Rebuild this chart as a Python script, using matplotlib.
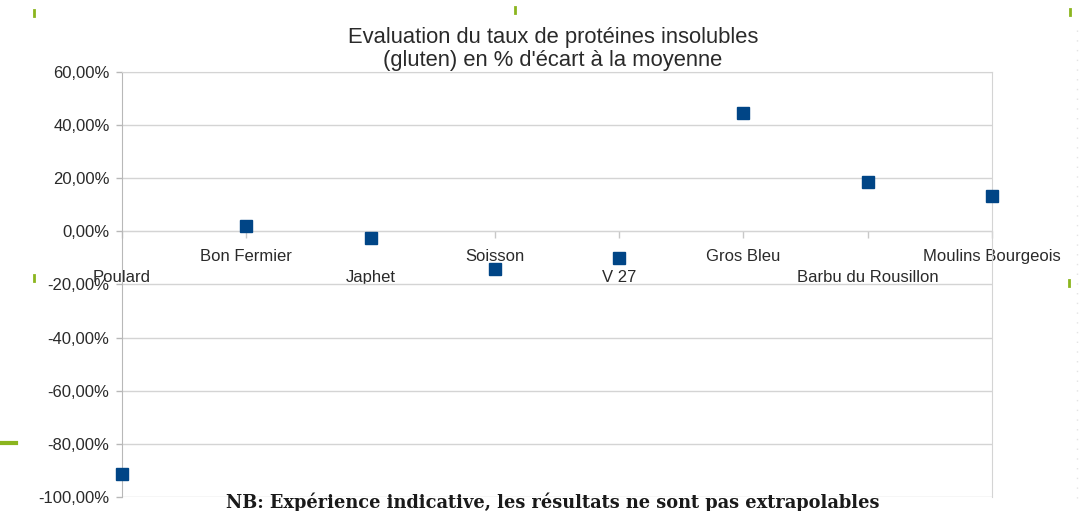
import matplotlib
matplotlib.use("Agg")
import matplotlib.pyplot as plt
from matplotlib.ticker import FuncFormatter, FixedLocator
from matplotlib.lines import Line2D

categories = ["Poulard", "Bon Fermier", "Japhet", "Soisson", "V 27",
              "Gros Bleu", "Barbu du Rousillon", "Moulins Bourgeois"]
values = [-0.915, 0.02, -0.025, -0.14, -0.10, 0.445, 0.185, 0.135]
y_ticks = [-1.0, -0.8, -0.6, -0.4, -0.2, 0.0, 0.2, 0.4, 0.6]

title = "Evaluation du taux de protéines insolubles\n(gluten) en % d'écart à la moyenne"
note = "NB: Expérience indicative, les résultats ne sont pas extrapolables"

W, H = 1084, 511
fig = plt.figure(figsize=(W / 100, H / 100), dpi=100)
fig.patch.set_facecolor("white")

L, R, T, B = 122, 992, 72, 497
ax = fig.add_axes([L / W, 1 - B / H, (R - L) / W, (B - T) / H])

x = list(range(len(categories)))
ax.plot(x, values, linestyle="none", marker="s", markersize=9,
        color="#004586", clip_on=False, zorder=5)

ax.set_xlim(0, len(categories) - 1)
ax.set_ylim(y_ticks[0], y_ticks[-1])

ax.yaxis.set_major_locator(FixedLocator(y_ticks))
ax.yaxis.set_major_formatter(
    FuncFormatter(lambda v, p: ("%.2f%%" % (v * 100)).replace(".", ",").replace("-0,00", "0,00")))
ax.grid(axis="y", color="#d4d4d4", linewidth=1.0)
ax.set_axisbelow(True)

text_col = "#2a2a2a"
for lab in ax.get_yticklabels():
    lab.set_fontfamily("Liberation Sans")
    lab.set_fontsize(12)
    lab.set_color(text_col)
ax.tick_params(axis="y", length=4.5, width=1.0, color="#b8b8b8", pad=4.5)

# x axis at zero
ax.spines["bottom"].set_position(("data", 0))
ax.spines["bottom"].set_color("#d4d4d4")
ax.spines["bottom"].set_zorder(1)
for s in ["top", "right"]:
    ax.spines[s].set_color("#d4d4d4")
ax.spines["left"].set_color("#b8b8b8")

ax.set_xticks(x)
ax.set_xticklabels(categories, fontfamily="Liberation Sans", fontsize=12, color=text_col)
ax.tick_params(axis="x", length=5, width=1.0, color="#c8c8c8", direction="out")
for i, t in enumerate(ax.xaxis.get_major_ticks()):
    t.set_pad(8 if i % 2 == 1 else 23)

fig.text(553 / W, 1 - 49 / H, title, ha="center", va="center",
         fontfamily="Liberation Sans", fontsize=15.8, color=text_col, linespacing=1.08)
fig.text(553 / W, 1 - 502 / H, note, ha="center", va="center",
         fontfamily="DejaVu Serif", fontweight="bold", fontsize=12.8, color="#1a1a1a")

# slide decorations
green = "#8bb51e"
fig.add_artist(Line2D([0 / W, 16 / W], [1 - 443 / H, 1 - 443 / H], color=green, linewidth=3))
for (px, py) in [(34, 13), (515, 10), (1070, 12), (1069, 283), (34, 278)]:
    fig.add_artist(Line2D([px / W, px / W], [1 - (py - 3) / H, 1 - (py + 3) / H],
                          color=green, linewidth=2))
fig.add_artist(Line2D([1077 / W, 1077 / W], [1 - 30 / H, 1 - 505 / H],
                      color="#e4e4e4", linewidth=1, linestyle=(0, (1, 6))))

fig.savefig("out.png", dpi=100)
